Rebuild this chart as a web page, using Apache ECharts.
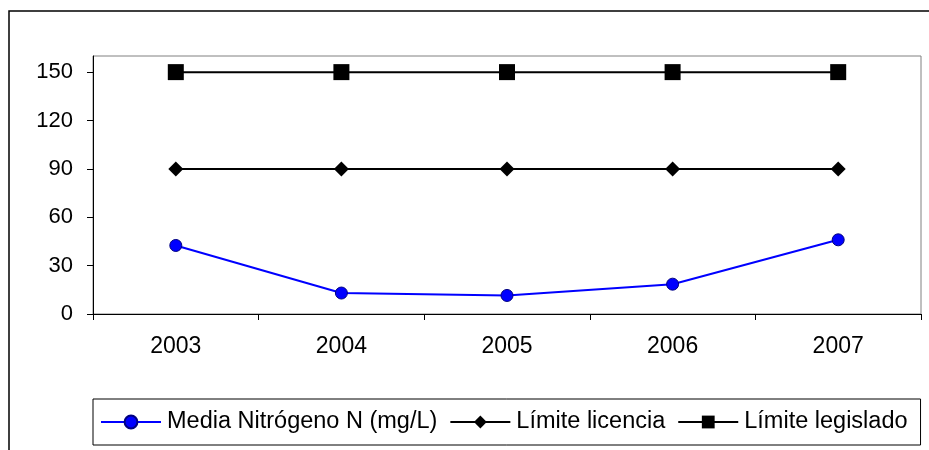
<!DOCTYPE html>
<html>
<head>
<meta charset="utf-8">
<script src="https://cdn.jsdelivr.net/npm/echarts@6/dist/echarts.min.js"></script>
<style>html,body{margin:0;padding:0;background:#fff}#c{width:929px;height:450px}</style>
</head>
<body>
<div id="c"></div>
<script>
var years = ['2003', '2004', '2005', '2006', '2007'];
var mediaNitrogeno = [42.5, 13, 11.5, 18.5, 46];
var limiteLicencia = [90, 90, 90, 90, 90];
var limiteLegislado = [150, 150, 150, 150, 150];
var yTicks = [0, 30, 60, 90, 120, 150];
var seriesNames = ['Media Nitrógeno N (mg/L)', 'Límite licencia', 'Límite legislado'];

var FONT = '"Liberation Sans", Arial, sans-serif';
var chart = echarts.init(document.getElementById('c'), null, {renderer: 'canvas'});
chart.setOption({
  animation: false,
  backgroundColor: '#fff',
  textStyle: {fontFamily: FONT, color: '#000'},
  graphic: [{
    type: 'rect', silent: true, z: -1,
    shape: {x: 9, y: 11, width: 960, height: 480},
    style: {fill: 'none', stroke: '#000', lineWidth: 1.5}
  }],
  grid: {left: 93, top: 56, right: 8, bottom: 136, show: true, borderColor: '#808080', borderWidth: 1, backgroundColor: 'transparent'},
  xAxis: {
    type: 'category', data: years, boundaryGap: true,
    axisLine: {lineStyle: {color: '#000', width: 1}},
    axisTick: {show: true, interval: 0, length: 6, lineStyle: {color: '#000'}},
    axisLabel: {fontSize: 23, color: '#000', margin: 21, fontFamily: FONT},
    splitLine: {show: false}
  },
  yAxis: {
    type: 'value', min: 0, max: 160, interval: 30,
    axisLine: {show: true, lineStyle: {color: '#000', width: 1}},
    axisTick: {show: true, length: 6, lineStyle: {color: '#000'}, customValues: yTicks},
    axisLabel: {fontSize: 22, color: '#000', margin: 20, fontFamily: FONT, customValues: yTicks},
    splitLine: {show: false}
  },
  legend: {
    left: 93, top: 399,
    data: seriesNames,
    itemWidth: 60, itemHeight: 16, itemGap: 12,
    padding: [11, 13, 11, 7],
    borderColor: '#000', borderWidth: 1,
    textStyle: {fontSize: 23.5, color: '#000', fontFamily: FONT, padding: [0, 0, 0, 1]}
  },
  series: [
    {
      name: seriesNames[0], type: 'line', data: mediaNitrogeno,
      symbol: 'circle', symbolSize: 12,
      lineStyle: {color: '#0000FF', width: 2},
      itemStyle: {color: '#0000FF', borderColor: '#000080', borderWidth: 1}
    },
    {
      name: seriesNames[1], type: 'line', data: limiteLicencia,
      symbol: 'diamond', symbolSize: 15,
      lineStyle: {color: '#000', width: 2},
      itemStyle: {color: '#000'}
    },
    {
      name: seriesNames[2], type: 'line', data: limiteLegislado,
      symbol: 'rect', symbolSize: 16,
      lineStyle: {color: '#000', width: 2},
      itemStyle: {color: '#000'}
    }
  ]
});
</script>
</body>
</html>
